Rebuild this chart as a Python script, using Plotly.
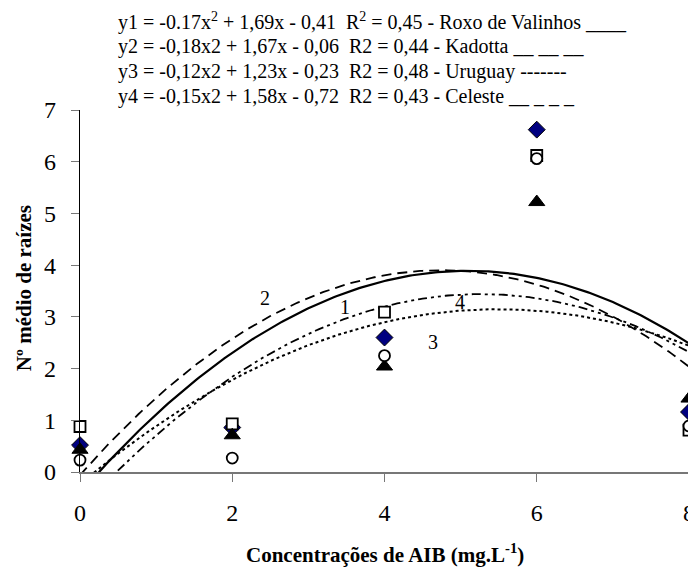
import numpy as np
import plotly.graph_objects as go

# ---- data ----
conc = [0, 2, 4, 6, 8]                      # Concentrações de AIB (mg.L-1)
roxo = [0.52, 0.86, 2.60, 6.62, 1.16]       # diamonds
kadotta = [0.88, 0.93, 3.09, 6.12, 0.81]    # open squares
uruguay = [0.43, 0.71, 2.04, 5.22, 1.42]    # filled triangles
celeste = [0.23, 0.27, 2.25, 6.06, 0.89]    # open circles

# quadratic trend-line coefficients (a, b, c) for y = a x^2 + b x + c
trend1 = [-0.166, 1.69, -0.41]
trend2 = [-0.176, 1.67, -0.06]
trend3 = [-0.112, 1.23, -0.23]
trend4 = [-0.15, 1.58, -0.72]

eq_lines = [
    "y1 = -0.17x<sup>2</sup> + 1,69x - 0,41  R<sup>2</sup> = 0,45 - Roxo de Valinhos ____",
    "y2 = -0,18x2 + 1,67x - 0,06  R2 = 0,44 - Kadotta __ __ __",
    "y3 = -0,12x2 + 1,23x - 0,23  R2 = 0,48 - Uruguay -------",
    "y4 = -0,15x2 + 1,58x - 0,72  R2 = 0,43 - Celeste __ _ _ _",
]
curve_labels = ["1", "2", "3", "4"]
curve_label_x = [3.48, 2.43, 4.64, 4.99]
curve_label_y = [3.19, 3.36, 2.52, 3.29]

x_tick_vals = [0, 2, 4, 6, 8]
y_tick_vals = [0, 1, 2, 3, 4, 5, 6, 7]

FONT = "Liberation Serif"

# ---- figure geometry (page body adds an 8px offset) ----
OFF = 8
W, H = 696, 572
PLOT_L, PLOT_R, PLOT_T, PLOT_B = 80, 689, 110, 471.7   # wanted window coords
ML = PLOT_L - OFF
MT = PLOT_T - OFF
MR = W - (PLOT_R - OFF)
MB = H - (PLOT_B - OFF)
PW, PH = W - ML - MR, H - MT - MB


def px(xw):
    return (xw - OFF - ML) / PW


def py(yw):
    return (H - MB - (yw - OFF)) / PH


fig = go.Figure()

xs = np.linspace(0, 8, 241)
styles = [
    dict(color="black", width=2.2, dash="solid"),
    dict(color="black", width=1.8, dash="10px,6px"),
    dict(color="black", width=2.0, dash="3px,3px"),
    dict(color="black", width=1.8, dash="9px,4px,3px,4px,3px,4px"),
]
for coef, st, nm in zip([trend1, trend2, trend3, trend4], styles,
                        ["y1", "y2", "y3", "y4"]):
    ys = np.polyval(coef, xs)
    fig.add_trace(go.Scatter(x=xs, y=ys, mode="lines", line=st, name=nm,
                             showlegend=False, hoverinfo="skip"))

fig.add_trace(go.Scatter(x=conc, y=roxo, mode="markers", name="Roxo de Valinhos",
                         cliponaxis=False,
                         marker=dict(symbol="diamond", size=13, color="#000080",
                                     line=dict(color="black", width=1))))
fig.add_trace(go.Scatter(x=conc, y=kadotta, mode="markers", name="Kadotta",
                         cliponaxis=False,
                         marker=dict(symbol="square", size=11, color="white",
                                     line=dict(color="black", width=1.8))))
fig.add_trace(go.Scatter(x=conc, y=uruguay, mode="markers", name="Uruguay",
                         cliponaxis=False,
                         marker=dict(symbol="triangle-up", size=14, color="black",
                                     line=dict(color="black", width=1))))
fig.add_trace(go.Scatter(x=conc, y=celeste, mode="markers", name="Celeste",
                         cliponaxis=False,
                         marker=dict(symbol="circle", size=11, color="white",
                                     line=dict(color="black", width=1.8))))

annotations = []
for i, t in enumerate(eq_lines):
    annotations.append(dict(
        text=t, xref="paper", yref="paper",
        x=px(116), y=py(22 + i * 25),
        xanchor="left", yanchor="middle", showarrow=False,
        font=dict(family=FONT, size=20, color="black")))

for lab, lx, ly in zip(curve_labels, curve_label_x, curve_label_y):
    annotations.append(dict(text=lab, x=lx, y=ly, xref="x", yref="y",
                            showarrow=False,
                            font=dict(family=FONT, size=20, color="black")))

annotations.append(dict(
    text="<b>Nº médio de raízes</b>", xref="paper", yref="paper",
    x=px(24), y=py(288), textangle=-90,
    xanchor="center", yanchor="middle", showarrow=False,
    font=dict(family=FONT, size=21, color="black")))
annotations.append(dict(
    text="<b>Concentrações de AIB (mg.L<sup>-1</sup>)</b>", xref="paper", yref="paper",
    x=px(385), y=py(553),
    xanchor="center", yanchor="middle", showarrow=False,
    font=dict(family=FONT, size=21, color="black")))

fig.update_layout(
    width=W, height=H,
    margin=dict(l=ML, r=MR, t=MT, b=MB, autoexpand=False),
    paper_bgcolor="white", plot_bgcolor="white",
    showlegend=False,
    annotations=annotations,
    xaxis=dict(range=[0, 8], tickvals=x_tick_vals, showgrid=False, zeroline=False,
               automargin=False,
               showline=True, linecolor="#777777", linewidth=1.5,
               ticks="outside", ticklen=8, tickcolor="#777777", tickwidth=1.2,
               ticklabelstandoff=10,
               tickfont=dict(family=FONT, size=24, color="black")),
    yaxis=dict(range=[0, 7], tickvals=y_tick_vals, showgrid=False, zeroline=False,
               automargin=False,
               showline=True, linecolor="black", linewidth=1.2,
               ticks="outside", ticklen=8, tickcolor="#777777", tickwidth=1.2,
               ticklabelstandoff=10,
               tickfont=dict(family=FONT, size=24, color="black")),
)

fig.write_html("out.html")
